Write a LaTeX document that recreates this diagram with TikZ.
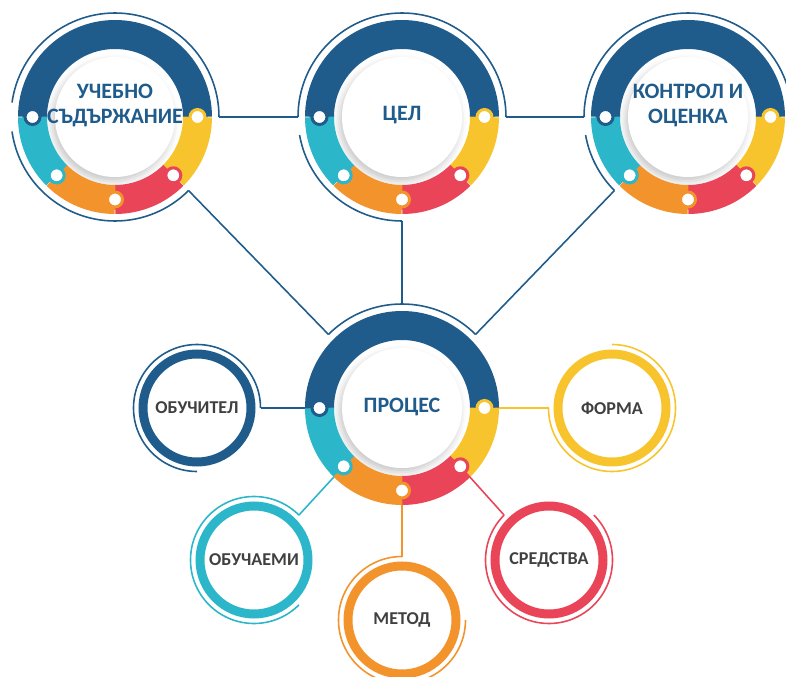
\documentclass[tikz,border=0pt]{standalone}
\usepackage{fontspec}
\setmainfont{Carlito}
\usetikzlibrary{shadows.blur}

\definecolor{sinio}{RGB}{31,92,140}
\definecolor{tirkoaz}{RGB}{43,183,201}
\definecolor{oranzhevo}{RGB}{242,147,43}
\definecolor{cherveno}{RGB}{233,68,88}
\definecolor{zhalto}{RGB}{248,196,46}
\definecolor{sivo}{RGB}{64,64,64}

\tikzset{
  vrazka/.style={line width=0.9pt},
  dyga/.style={line width=0.9pt},
  parche/.style={line width=0.58cm},
  tochka/.style={fill=white, line width=0.06cm},
  koleli/.style={line width=0.18cm},
  zaglavie/.style={font=\bfseries\fontsize{12.5}{14.5}\selectfont, text=sinio, align=center},
  etiket/.style={font=\bfseries\fontsize{10.3}{12}\selectfont, text=sivo},
}

\begin{document}
\begin{tikzpicture}
    \useasboundingbox (0,0) rectangle (15.72,-13.54);

    % Centres of the circles
    \coordinate (uchebno) at (2.3,-2.34);
    \coordinate (cel) at (8.04,-2.34);
    \coordinate (kontrol) at (13.76,-2.34);
    \coordinate (proces) at (8.04,-8.16);
    \coordinate (obuchitel) at (3.94,-8.16);
    \coordinate (forma) at (12.24,-8.16);
    \coordinate (obuchaemi) at (5.08,-11.2);
    \coordinate (metod) at (8.04,-12.4);
    \coordinate (sredstva) at (10.98,-11.2);

    % Ends of the thin outer arcs
    \coordinate (uchebno-e) at ([shift={(0:2.08)}]uchebno);
    \coordinate (uchebno-se) at ([shift={(315:2.08)}]uchebno);
    \coordinate (cel-w) at ([shift={(180:2.08)}]cel);
    \coordinate (cel-e) at ([shift={(0:2.08)}]cel);
    \coordinate (cel-s) at ([shift={(270:2.08)}]cel);
    \coordinate (kontrol-w) at ([shift={(180:2.08)}]kontrol);
    \coordinate (kontrol-sw) at ([shift={(225:2.08)}]kontrol);
    \coordinate (proces-nw) at ([shift={(135:2.08)}]proces);
    \coordinate (proces-n) at ([shift={(90:2.08)}]proces);
    \coordinate (proces-ne) at ([shift={(45:2.08)}]proces);
    \coordinate (obuchitel-e) at ([shift={(0:1.27)}]obuchitel);
    \coordinate (forma-w) at ([shift={(180:1.27)}]forma);
    \coordinate (obuchaemi-ne) at ([shift={(45:1.27)}]obuchaemi);
    \coordinate (metod-n) at ([shift={(90:1.27)}]metod);
    \coordinate (sredstva-nw) at ([shift={(135:1.27)}]sredstva);

    % Dots on the process ring
    \coordinate (proces-dl) at ([shift={(180:1.65)}]proces);
    \coordinate (proces-dr) at ([shift={(0:1.65)}]proces);
    \coordinate (proces-dsw) at ([shift={(-135:1.65)}]proces);
    \coordinate (proces-ds) at ([shift={(-90:1.65)}]proces);
    \coordinate (proces-dse) at ([shift={(-45:1.65)}]proces);

    % Connectors
    \draw[vrazka, sinio] (uchebno-e) -- (cel-w);
    \draw[vrazka, sinio] (cel-e) -- (kontrol-w);
    \draw[vrazka, sinio] (uchebno-se) -- (proces-nw);
    \draw[vrazka, sinio] (cel-s) -- (proces-n);
    \draw[vrazka, sinio] (kontrol-sw) -- (proces-ne);
    \draw[vrazka, sinio] (proces-dl) -- (obuchitel-e);
    \draw[vrazka, zhalto] (proces-dr) -- (forma-w);
    \draw[vrazka, tirkoaz] (proces-dsw) -- (obuchaemi-ne);
    \draw[vrazka, oranzhevo] (proces-ds) -- (metod-n);
    \draw[vrazka, cherveno] (proces-dse) -- (sredstva-nw);

    % Thin arcs round the big circles
    \draw[dyga, sinio] (uchebno-e) arc (0:172:2.08);
    \draw[dyga, sinio] (uchebno-se) arc (315:188:2.08);
    \draw[dyga, sinio] (cel-e) arc (0:180:2.08);
    \draw[dyga, sinio] (cel-s) arc (270:190:2.08);
    \draw[dyga, sinio] (kontrol-w) arc (180:0:2.08);
    \draw[dyga, sinio] (kontrol-sw) arc (225:190:2.08);
    \draw[dyga, sinio] (proces-nw) arc (135:45:2.08);

    % Thin arcs round the small circles
    \draw[dyga, sinio] (obuchitel-e) arc (0:270:1.27);
    \draw[dyga, zhalto] (forma-w) arc (180:450:1.27);
    \draw[dyga, tirkoaz] (obuchaemi-ne) arc (45:315:1.27);
    \draw[dyga, oranzhevo] (metod-n) arc (90:360:1.27);
    \draw[dyga, cherveno] (sredstva-nw) arc (135:405:1.27);

    % Big rings made of five coloured pieces
    \foreach \c in {uchebno, cel, kontrol, proces} {
        \fill[white, blur shadow={shadow xshift=-1.5pt, shadow yshift=-2.5pt, shadow blur radius=4pt, shadow opacity=22}] (\c) circle (1.2);
        \foreach \a/\b/\col in {0/180/sinio, -45/0/zhalto, -90/-45/cherveno, -135/-90/oranzhevo, -180/-135/tirkoaz}
            \draw[parche, \col] (\c) ++(\a:1.65) arc (\a:\b:1.65);
        \foreach \a/\col in {180/sinio, 0/zhalto, -45/cherveno, -90/oranzhevo, -135/tirkoaz}
            \draw[tochka, draw=\col] (\c) ++(\a:1.65) circle (0.15);
    }

    % Small rings
    \draw[koleli, sinio] (obuchitel) circle (1.08);
    \draw[koleli, zhalto] (forma) circle (1.08);
    \draw[koleli, tirkoaz] (obuchaemi) circle (1.08);
    \draw[koleli, oranzhevo] (metod) circle (1.08);
    \draw[koleli, cherveno] (sredstva) circle (1.08);

    % Labels
    \node[zaglavie] (t-uchebno) at (2.3,-2.11) {УЧЕБНО\\СЪДЪРЖАНИЕ};
    \node[zaglavie] (t-cel) at (8.04,-2.3) {ЦЕЛ};
    \node[zaglavie] (t-kontrol) at (13.76,-2.11) {КОНТРОЛ И\\ОЦЕНКА};
    \node[zaglavie] (t-proces) at (8.04,-8.14) {ПРОЦЕС};
    \node[etiket] (t-obuchitel) at (obuchitel) {ОБУЧИТЕЛ};
    \node[etiket] (t-forma) at (forma) {ФОРМА};
    \node[etiket] (t-obuchaemi) at (obuchaemi) {ОБУЧАЕМИ};
    \node[etiket] (t-metod) at (metod) {МЕТОД};
    \node[etiket] (t-sredstva) at (sredstva) {СРЕДСТВА};
\end{tikzpicture}
\end{document}
